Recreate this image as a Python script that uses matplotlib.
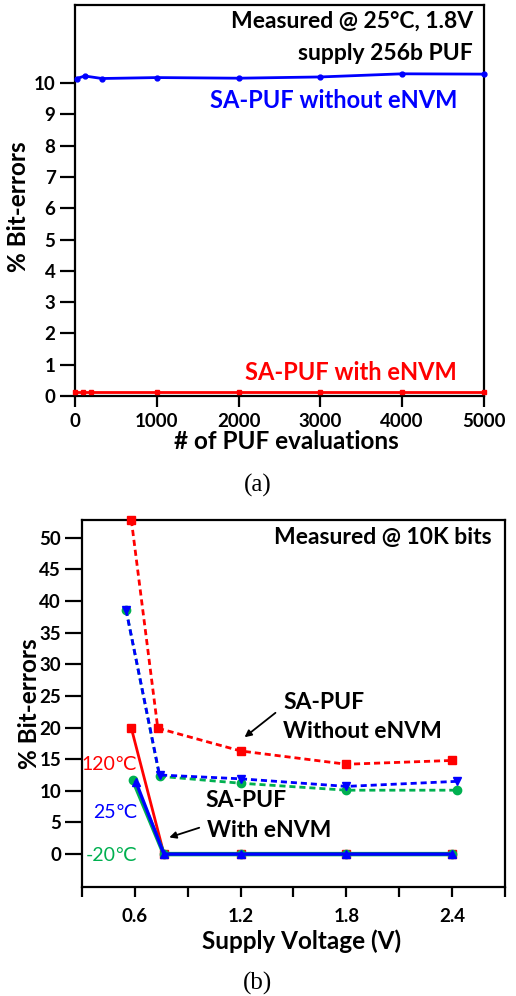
import matplotlib
matplotlib.use("Agg")
import matplotlib.pyplot as plt

# ---------------- data: panel (a) ----------------
evals_wo = [20, 120, 330, 1000, 2000, 3000, 4000, 5000]
err_wo = [10.15, 10.23, 10.15, 10.18, 10.16, 10.20, 10.30, 10.29]
evals_w = [0, 100, 200, 1000, 2000, 3000, 4000, 5000]
err_w = [0.12, 0.12, 0.12, 0.12, 0.12, 0.12, 0.12, 0.12]
xticks_a = [0, 1000, 2000, 3000, 4000, 5000]
yticks_a = list(range(0, 11))

# ---------------- data: panel (b) ----------------
v_120_wo = [0.58, 0.73, 1.2, 1.8, 2.4]
e_120_wo = [52.8, 19.9, 16.3, 14.2, 14.8]
v_25_wo = [0.55, 0.74, 1.2, 1.8, 2.43]
e_25_wo = [38.6, 12.5, 11.9, 10.7, 11.5]
v_m20_wo = [0.55, 0.74, 1.2, 1.8, 2.43]
e_m20_wo = [38.6, 12.3, 11.2, 10.1, 10.1]
v_120_w = [0.58, 0.765, 1.2, 1.8, 2.4]
e_120_w = [19.9, 0, 0, 0, 0]
v_25_w = [0.606, 0.765, 1.2, 1.8, 2.4]
e_25_w = [11.4, 0, 0, 0, 0]
v_m20_w = [0.59, 0.765, 1.2, 1.8, 2.4]
e_m20_w = [11.7, 0, 0, 0, 0]
xticks_b = [0.3, 0.6, 0.9, 1.2, 1.5, 1.8, 2.1, 2.4, 2.7]
xticklabels_b = ["", "0.6", "", "1.2", "", "1.8", "", "2.4", ""]
yticks_b = [0, 5, 10, 15, 20, 25, 30, 35, 40, 45, 50]

FONT = ["Lato", "DejaVu Sans"]
plt.rcParams["font.family"] = FONT
plt.rcParams["font.weight"] = "bold"

RED = "#ff0000"
BLUE = "#0000ff"
GREEN = "#00b050"

fig = plt.figure(figsize=(5.16, 9.96), dpi=100)

def style(ax, ylen, xlen):
    for s in ax.spines.values():
        s.set_linewidth(1.6)
    ax.tick_params(direction="out", width=1.6, labelsize=13.5)
    ax.tick_params(axis="y", length=ylen, pad=3)
    ax.tick_params(axis="x", length=xlen, pad=4)
    for lab in ax.get_xticklabels() + ax.get_yticklabels():
        lab.set_fontweight("bold")

# ---------------- panel (a) ----------------
ax1 = fig.add_axes([75/516, 1-396/996, (484-75)/516, (396-5)/996])
ax1.plot(evals_wo, err_wo, color=BLUE, lw=2, marker="o", ms=3.5, clip_on=False, zorder=3)
ax1.plot(evals_w, err_w, color=RED, lw=2, marker="s", ms=3.5, clip_on=False, zorder=3)
ax1.set_xlim(0, 5000)
ax1.set_ylim(0, 12.5)
ax1.set_xticks(xticks_a)
ax1.set_yticks(yticks_a)
style(ax1, 11, 8)
ax1.set_xlabel("# of PUF evaluations", fontsize=17.5, fontweight="bold", labelpad=0)
ax1.set_ylabel("% Bit-errors", fontsize=17.5, fontweight="bold", labelpad=3)
ax1.xaxis.label.set_x(0.517)
ax1.yaxis.label.set_y(0.483)
ax1.text(0.973, 0.958, "Measured @ 25°C, 1.8V", transform=ax1.transAxes,
         ha="right", va="center", fontsize=16.5, fontweight="bold")
ax1.text(0.973, 0.876, "supply 256b PUF", transform=ax1.transAxes,
         ha="right", va="center", fontsize=16.5, fontweight="bold")
ax1.text(0.633, 0.757, "SA-PUF without eNVM", transform=ax1.transAxes,
         ha="center", va="center", fontsize=17, fontweight="bold", color=BLUE)
ax1.text(0.675, 0.059, "SA-PUF with eNVM", transform=ax1.transAxes,
         ha="center", va="center", fontsize=17, fontweight="bold", color=RED)
fig.text(258/516, 1-485/996, "(a)", ha="center", va="center", fontsize=18,
         family="Liberation Serif", fontweight="normal")

# ---------------- panel (b) ----------------
ax2 = fig.add_axes([82/516, 1-887/996, (505-82)/516, (887-520)/996])
dash = (0, (2.2, 1.4))
ax2.plot(v_m20_wo, e_m20_wo, color=GREEN, lw=2, ls=dash, marker="o", ms=6, clip_on=False, zorder=3)
ax2.plot(v_25_wo, e_25_wo, color=BLUE, lw=2, ls=dash, marker="v", ms=6, clip_on=False, zorder=3)
ax2.plot(v_120_wo, e_120_wo, color=RED, lw=2, ls=dash, marker="s", ms=6, clip_on=False, zorder=3)
ax2.plot(v_120_w, e_120_w, color=RED, lw=2, marker="s", ms=6, clip_on=False, zorder=4)
ax2.plot(v_m20_w, e_m20_w, color=GREEN, lw=3.2, marker="o", ms=6, clip_on=False, zorder=4)
ax2.plot(v_25_w, e_25_w, color=BLUE, lw=2.4, marker="^", ms=6, clip_on=False, zorder=5)
ax2.set_xlim(0.3, 2.7)
ax2.set_ylim(-5.2, 52.8)
ax2.set_xticks(xticks_b)
ax2.set_xticklabels(xticklabels_b)
ax2.set_yticks(yticks_b)
style(ax2, 12, 7)
ax2.tick_params(axis="x", pad=8)
ax2.set_xlabel("Supply Voltage (V)", fontsize=17.5, fontweight="bold", labelpad=3)
ax2.set_ylabel("% Bit-errors", fontsize=17.5, fontweight="bold", labelpad=-1)
ax2.xaxis.label.set_x(0.518)

ax2.text(2.625, 50.0, "Measured @ 10K bits", ha="right", va="center", fontsize=16.5, fontweight="bold")
ax2.text(1.44, 23.9, "SA-PUF", ha="left", va="center", fontsize=16.5, fontweight="bold")
ax2.text(1.44, 19.3, "Without eNVM", ha="left", va="center", fontsize=16.5, fontweight="bold")
ax2.annotate("", xy=(1.21, 18.2), xytext=(1.41, 22.6),
             arrowprops=dict(arrowstyle="-|>", color="black", lw=1.3, mutation_scale=10))
ax2.text(1.0, 8.4, "SA-PUF", ha="left", va="center", fontsize=16.5, fontweight="bold")
ax2.text(1.01, 3.8, "With eNVM", ha="left", va="center", fontsize=16.5, fontweight="bold")
ax2.annotate("", xy=(0.78, 2.5), xytext=(0.98, 4.3),
             arrowprops=dict(arrowstyle="-|>", color="black", lw=1.3, mutation_scale=10))
ax2.text(0.615, 14.1, "120\u2103", ha="right", va="center", fontsize=14, fontweight="normal", color=RED)
ax2.text(0.615, 6.6, "25\u2103", ha="right", va="center", fontsize=14, fontweight="normal", color=BLUE)
ax2.text(0.615, -0.2, "-20\u2103", ha="right", va="center", fontsize=14, fontweight="normal", color=GREEN)
fig.text(258/516, 1-983/996, "(b)", ha="center", va="center", fontsize=18,
         family="Liberation Serif", fontweight="normal")

fig.savefig("out.png", dpi=100)
